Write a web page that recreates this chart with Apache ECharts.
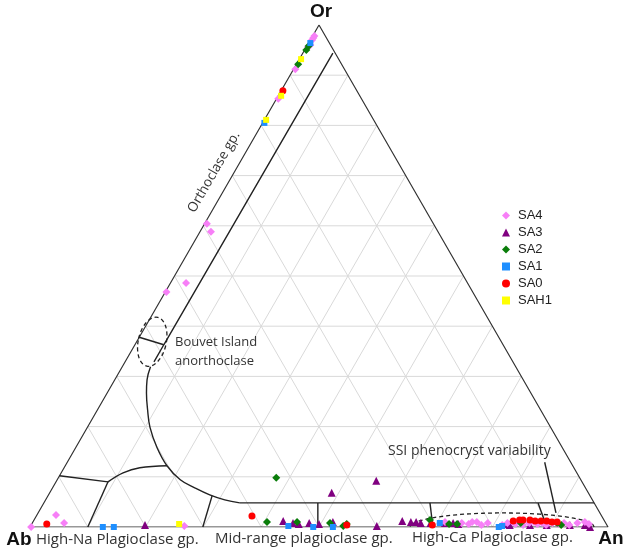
<!DOCTYPE html>
<html>
<head>
<meta charset="utf-8">
<script src="https://cdn.jsdelivr.net/npm/echarts@6/dist/echarts.min.js"></script>
<style>
  html, body { margin: 0; background: #fff; }
  #main { width: 623px; height: 554px; }
</style>
</head>
<body>
<div id="main"></div>
<script>
// ternary data, each point is [An %, Or %]  (Ab = 100 - An - Or)
let gridTicks = [10, 20, 30, 40, 50, 60, 70, 80, 90];

let sa4 = [
  [0.3, 97.8], [0.3, 97.0], [0.3, 97.4], [0.5, 96.0], [0.3, 95.6], [0.3, 91.2], [0.3, 85.3],
  [0.4, 60.4], [1.9, 58.8], [2.7, 48.6], [0.2, 46.8],
  [0.2, 0], [3.3, 2.4], [5.5, 0.8], [26.6, 0.2],
  [71.3, 1.0], [74.3, 0.8], [75.6, 0.6], [76.0, 1.0], [76.8, 1.0], [77.9, 0.4], [78.8, 0.8], [81.5, 0.4],
  [82.2, 0.8], [83.0, 1.0], [83.7, 0.6], [84.4, 0.8], [85.1, 0.4], [86.0, 0.8], [86.7, 1.0], [87.5, 0.6],
  [88.2, 0.8], [89.1, 0.4], [90.0, 0.8], [91.0, 0.6], [92.0, 0.8], [93.1, 0.4], [94.3, 0.8], [95.5, 1.0], [96.4, 0.6]
];
let sa3 = [
  [19.7, 0.4], [55.3, 9.2], [48.8, 6.8], [43.2, 1.2], [45.1, 0.8], [46.2, 0.6], [47.9, 0.8], [49.7, 0.6],
  [51.9, 1.0], [59.9, 0.2], [63.8, 1.2], [65.4, 1.0], [66.3, 1.0], [67.2, 0.8], [68.9, 0.8], [71.4, 0.8],
  [72.8, 0.8], [73.8, 0.6], [82.2, 0.6], [82.8, 0.4], [86.3, 0.4], [89.2, 0.4], [93.2, 0.4], [95.8, 0.4], [96.9, 0]
];
let sa2 = [
  [0.3, 95.8], [0.3, 95.0], [0.3, 92.2],
  [37.7, 9.8], [40.5, 1.0], [45.7, 1.0], [51.5, 0.8], [54.1, 0.2], [54.5, 0.6], [68.5, 1.4],
  [72.2, 0.6], [73.6, 0.6], [84.5, 0.8], [90.8, 0.8], [91.7, 0.4]
];
let sa1 = [
  [0.3, 96.4], [0.3, 80.5],
  [12.6, 0], [14.5, 0], [44.6, 0.2], [49.0, 0], [52.4, 0], [70.5, 0.8], [81.1, 0], [81.6, 0.2]
];
let sa0 = [
  [0.3, 86.9],
  [2.6, 0.6], [37.3, 2.2], [54.6, 0.4], [69.4, 0.4], [83.0, 1.2], [84.0, 1.4], [84.6, 1.4], [85.8, 1.4],
  [86.8, 1.2], [87.8, 1.2], [88.8, 1.2], [89.8, 1.0], [90.7, 1.0]
];
let sah1 = [
  [0.3, 93.2], [0.5, 85.9], [0.3, 81.1], [25.5, 0.6]
];

// field boundaries
let orthoclaseLine = [[5.2, 94.4], [5.0, 36.3], [5.0, 32.9]];
let bouvetTie = [[0, 37.8], [5.0, 36.3]];
let solvusCurve = [[4.9, 31.9], [5.6, 29.3], [6.8, 26.7], [8.7, 23.3], [10.8, 19.9], [14.0, 15.9],
  [17.6, 12.2], [21.3, 9.4], [24.6, 7.8], [27.9, 6.4], [31.0, 5.4], [33.9, 4.8]];
let plagTop = [[33.9, 4.8], [95.2, 4.8]];
let naLine = [[0, 10.2], [9.0, 9.0]];
let naArc = [[9.0, 9.0], [10.7, 10.8], [13.1, 11.8], [17.6, 12.2]];
let naLeg = [[9.0, 9.0], [10.0, 0]];
let midLeg = [[28.4, 6.2], [29.9, 0]];
let midTick = [[47.4, 4.8], [49.8, 0]];
let caLeftTick = [[66.8, 4.8], [69.7, 0]];
let caRightTick = [[85.5, 4.8], [89.4, 0]];
let ssiPointer = [[82.6, 12.9], [89.6, 2.8]];
let ssiCenter = [81.7, 0];
let bouvetCenter = [2.7, 36.9];

// [An, Or] -> plot x,y
function toXY(p) { return [p[0] + p[1] / 2, p[1]]; }

let series = [];

// light grid
function gridLine(a, b) {
  series.push({
    type: 'line', data: [toXY(a), toXY(b)], symbol: 'none', silent: true, z: 1,
    lineStyle: { color: '#d9d9d9', width: 1 }
  });
}
gridTicks.forEach(function (k) {
  gridLine([0, k], [100 - k, k]);         // const Or
  gridLine([k, 0], [k, 100 - k]);         // const An
  gridLine([100 - k, 0], [0, 100 - k]);   // const Ab
});

function blackLine(pts, smooth, extra) {
  let s = {
    type: 'line', data: pts.map(toXY), symbol: 'none', silent: true, z: 3, smooth: smooth ? 0.4 : false,
    lineStyle: { color: '#222', width: 1.4 }
  };
  if (extra) Object.assign(s.lineStyle, extra);
  series.push(s);
}
// triangle outline
blackLine([[0, 0], [100, 0], [0, 100], [0, 0]], false, { color: '#333', width: 1.2 });
blackLine(orthoclaseLine);
blackLine(bouvetTie);
blackLine(solvusCurve, true);
blackLine(plagTop);
blackLine(naLine);
blackLine(naArc, true);
blackLine(naLeg);
blackLine(midLeg);
blackLine(midTick);
blackLine(caLeftTick);
blackLine(caRightTick);
blackLine(ssiPointer);

// dashed half-ellipse around the SSI phenocryst cluster
let ssiRing = [];
for (let i = 0; i <= 60; i++) {
  let t = Math.PI * i / 60;
  ssiRing.push([ssiCenter[0] + 15.9 * Math.cos(t), ssiCenter[1] + 2.8 * Math.sin(t)]);
}
series.push({
  type: 'line', data: ssiRing, symbol: 'none', silent: true, z: 3, smooth: false,
  lineStyle: { color: '#222', width: 1.3, type: [4, 3] }
});

function scatter(name, pts, symbol, size, color) {
  series.push({
    name: name, type: 'scatter', data: pts.map(toXY), symbol: symbol, symbolSize: size, z: 5,
    itemStyle: { color: color, opacity: 1 }
  });
}
scatter('SA3', sa3, 'triangle', 8, '#800080');
scatter('SA4', sa4, 'diamond', 8, '#f77ff7');
scatter('SA2', sa2, 'diamond', 8, '#0a7d0a');
scatter('SA1', sa1, 'rect', 6, '#1e8fff');
scatter('SA0', sa0, 'circle', 7, '#ff0000');
scatter('SAH1', sah1, 'rect', 6, '#ffff00');

let chart = echarts.init(document.getElementById('main'));

let option = {
  animation: false,
  grid: { left: 30, right: 15, top: 25, bottom: 27 },
  xAxis: { type: 'value', min: 0, max: 100, show: false },
  yAxis: { type: 'value', min: 0, max: 100, show: false },
  legend: {
    data: ['SA4', 'SA3', 'SA2', 'SA1', 'SA0', 'SAH1'],
    orient: 'vertical', left: 497, top: 204, itemGap: 4,
    itemWidth: 8, itemHeight: 8,
    textStyle: { fontFamily: 'Liberation Sans', fontSize: 13, color: '#222', padding: [0, 0, 0, 3] }
  },
  series: series
};
chart.setOption(option);

// labels and the Bouvet ellipse
let c = chart.convertToPixel({ gridIndex: 0 }, toXY(bouvetCenter));
let lbl = { fontFamily: 'Open Sans', fontSize: 13, fill: '#333' };
let big = { fontSize: 15 };
function txt(text, x, y, extra) {
  let st = Object.assign({ text: text, textAlign: 'left', textVerticalAlign: 'middle' }, lbl, extra || {});
  return { type: 'text', x: x, y: y, style: st, z: 10 };
}
let bold = { fontFamily: 'Liberation Sans', fontSize: 19, fontWeight: 'bold', fill: '#111', textAlign: 'center' };
chart.setOption({
  graphic: [
    txt('Or', 321, 12, bold),
    txt('Ab', 19, 540, bold),
    txt('An', 611, 539, bold),
    txt('High-Na Plagioclase gp.', 36, 540, big),
    txt('Mid-range plagioclase gp.', 215, 539, big),
    txt('High-Ca Plagioclase gp.', 412, 538, big),
    txt('SSI phenocryst variability', 388, 451, { fontSize: 14 }),
    txt('Bouvet Island', 175, 342),
    txt('anorthoclase', 175, 361),
    Object.assign(txt('Orthoclase gp.', 214, 172, { textAlign: 'center', fontSize: 13.5 }), { rotation: Math.PI / 3 }),
    {
      type: 'ellipse', x: c[0], y: c[1], rotation: -0.22, z: 4, silent: true,
      shape: { cx: 0, cy: 0, rx: 14, ry: 25 },
      style: { fill: 'none', stroke: '#222', lineWidth: 1.3, lineDash: [4, 3] }
    }
  ]
});
</script>
</body>
</html>
